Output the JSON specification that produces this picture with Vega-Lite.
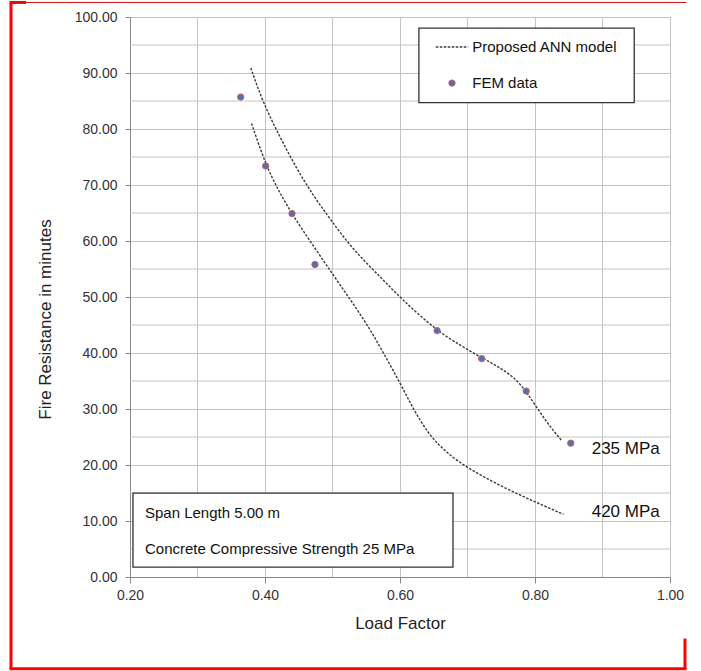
{
  "$schema": "https://vega.github.io/schema/vega-lite/v6.json",
  "width": 540,
  "height": 560,
  "autosize": {"type": "none"},
  "padding": {"left": 130, "top": 17, "right": 31, "bottom": 94},
  "background": "white",
  "config": {
    "font": "Liberation Sans",
    "view": {"stroke": "#c4c4c4", "strokeWidth": 1},
    "axis": {
      "labelFont": "Liberation Sans",
      "titleFont": "Liberation Sans",
      "labelColor": "#333333",
      "titleColor": "#222222",
      "labelFontSize": 14,
      "titleFontSize": 17,
      "titleFontWeight": "normal",
      "gridColor": "#c4c4c4",
      "gridWidth": 1,
      "domainColor": "#888888",
      "tickColor": "#888888",
      "labelFlush": false
    }
  },
  "datasets": {
    "minorGrid": [
      {"fr": 5}, {"fr": 15}, {"fr": 25}, {"fr": 35}, {"fr": 45},
      {"fr": 55}, {"fr": 65}, {"fr": 75}, {"fr": 85}, {"fr": 95}
    ],
    "curves": [
      {"series": "235 MPa", "load": 0.379, "fr": 90.9},
      {"series": "235 MPa", "load": 0.397, "fr": 84.7},
      {"series": "235 MPa", "load": 0.422, "fr": 78.6},
      {"series": "235 MPa", "load": 0.447, "fr": 72.9},
      {"series": "235 MPa", "load": 0.471, "fr": 68.2},
      {"series": "235 MPa", "load": 0.496, "fr": 64.0},
      {"series": "235 MPa", "load": 0.530, "fr": 58.5},
      {"series": "235 MPa", "load": 0.570, "fr": 53.7},
      {"series": "235 MPa", "load": 0.600, "fr": 49.9},
      {"series": "235 MPa", "load": 0.654, "fr": 44.0},
      {"series": "235 MPa", "load": 0.689, "fr": 41.4},
      {"series": "235 MPa", "load": 0.719, "fr": 39.3},
      {"series": "235 MPa", "load": 0.745, "fr": 37.6},
      {"series": "235 MPa", "load": 0.770, "fr": 35.6},
      {"series": "235 MPa", "load": 0.788, "fr": 33.0},
      {"series": "235 MPa", "load": 0.817, "fr": 27.6},
      {"series": "235 MPa", "load": 0.840, "fr": 24.3},
      {"series": "420 MPa", "load": 0.380, "fr": 81.0},
      {"series": "420 MPa", "load": 0.401, "fr": 73.6},
      {"series": "420 MPa", "load": 0.420, "fr": 69.0},
      {"series": "420 MPa", "load": 0.440, "fr": 64.8},
      {"series": "420 MPa", "load": 0.470, "fr": 59.4},
      {"series": "420 MPa", "load": 0.499, "fr": 54.3},
      {"series": "420 MPa", "load": 0.526, "fr": 49.6},
      {"series": "420 MPa", "load": 0.553, "fr": 44.8},
      {"series": "420 MPa", "load": 0.575, "fr": 40.1},
      {"series": "420 MPa", "load": 0.600, "fr": 34.7},
      {"series": "420 MPa", "load": 0.620, "fr": 29.9},
      {"series": "420 MPa", "load": 0.644, "fr": 25.2},
      {"series": "420 MPa", "load": 0.669, "fr": 22.2},
      {"series": "420 MPa", "load": 0.699, "fr": 19.5},
      {"series": "420 MPa", "load": 0.753, "fr": 16.0},
      {"series": "420 MPa", "load": 0.802, "fr": 13.3},
      {"series": "420 MPa", "load": 0.842, "fr": 11.2}
    ],
    "fem": [
      {"load": 0.364, "fr": 85.7},
      {"load": 0.401, "fr": 73.4},
      {"load": 0.440, "fr": 64.9},
      {"load": 0.474, "fr": 55.8},
      {"load": 0.655, "fr": 44.0},
      {"load": 0.721, "fr": 39.0},
      {"load": 0.787, "fr": 33.2},
      {"load": 0.853, "fr": 23.9}
    ],
    "curveLabels": [
      {"label": "235 MPa", "load": 0.884, "fr": 22.8},
      {"label": "420 MPa", "load": 0.884, "fr": 11.6}
    ],
    "legendBox": [{"x1": 0.628, "x2": 0.947, "y1": 84.7, "y2": 98.0}],
    "legendLine": [{"x1": 0.653, "x2": 0.701, "y": 94.65}],
    "legendPoint": [{"x": 0.677, "y": 88.2}],
    "legendText": [
      {"x": 0.707, "y": 94.65, "text": "Proposed ANN model"},
      {"x": 0.707, "y": 88.2, "text": "FEM data"}
    ],
    "noteBox": [{"x1": 0.2044, "x2": 0.6785, "y1": 1.78, "y2": 14.97}],
    "noteText": [
      {"x": 0.2222, "y": 11.4, "text": "Span Length 5.00 m"},
      {"x": 0.2222, "y": 5.0, "text": "Concrete Compressive Strength 25 MPa"}
    ],
    "frameV": [
      {"x": 0.0237, "y1": 102.6, "y2": -16.4},
      {"x": 1.0222, "y1": -11.0, "y2": -16.4}
    ],
    "frameH": [
      {"y": -16.4, "x1": 0.0215, "x2": 1.0244, "w": "thick"},
      {"y": 102.6, "x1": 0.0215, "x2": 0.0459, "w": "thick"},
      {"y": 102.6, "x1": 0.0237, "x2": 1.0244, "w": "thin"}
    ]
  },
  "layer": [
    {
      "data": {"name": "minorGrid"},
      "mark": {"type": "rule", "color": "#c4c4c4", "strokeWidth": 1},
      "encoding": {
        "y": {"field": "fr", "type": "quantitative"}
      }
    },
    {
      "data": {"name": "curves"},
      "mark": {"type": "line", "color": "#3a3a3a", "strokeWidth": 1.4, "strokeDash": [2.5, 1.5], "interpolate": "basis"},
      "encoding": {
        "x": {
          "field": "load", "type": "quantitative",
          "scale": {"domain": [0.2, 1.0], "nice": false, "zero": false},
          "axis": {
            "title": "Load Factor",
            "values": [0.2, 0.3, 0.4, 0.5, 0.6, 0.7, 0.8, 0.9, 1.0],
            "labelExpr": "round(datum.value*10) % 2 == 0 ? format(datum.value, '.2f') : ''",
            "tickOpacity": {"condition": {"test": "round(datum.value*10) % 2 != 0", "value": 0}, "value": 1},
            "tickSize": 6,
            "labelPadding": 5,
            "titlePadding": 13,
            "grid": true
          }
        },
        "y": {
          "field": "fr", "type": "quantitative",
          "scale": {"domain": [0, 100], "nice": false},
          "axis": {
            "title": "Fire Resistance in minutes",
            "values": [0, 10, 20, 30, 40, 50, 60, 70, 80, 90, 100],
            "format": ".2f",
            "tickSize": 5,
            "labelPadding": 8,
            "titlePadding": 20,
            "titleY": 302,
            "grid": true
          }
        },
        "detail": {"field": "series"}
      }
    },
    {
      "data": {"name": "fem"},
      "mark": {"type": "point", "filled": true, "fill": "#5470b0", "stroke": "#c86060", "strokeWidth": 1, "size": 40, "opacity": 1},
      "encoding": {
        "x": {"field": "load", "type": "quantitative"},
        "y": {"field": "fr", "type": "quantitative"}
      }
    },
    {
      "data": {"name": "curveLabels"},
      "mark": {"type": "text", "align": "left", "baseline": "middle", "fontSize": 17, "color": "#111111"},
      "encoding": {
        "x": {"field": "load", "type": "quantitative"},
        "y": {"field": "fr", "type": "quantitative"},
        "text": {"field": "label"}
      }
    },
    {
      "data": {"name": "legendBox"},
      "mark": {"type": "rect", "fill": "white", "stroke": "#333333", "strokeWidth": 1.3},
      "encoding": {
        "x": {"field": "x1", "type": "quantitative"},
        "x2": {"field": "x2"},
        "y": {"field": "y1", "type": "quantitative"},
        "y2": {"field": "y2"}
      }
    },
    {
      "data": {"name": "legendLine"},
      "mark": {"type": "rule", "color": "#3a3a3a", "strokeWidth": 1.4, "strokeDash": [2.5, 1.5]},
      "encoding": {
        "x": {"field": "x1", "type": "quantitative"},
        "x2": {"field": "x2"},
        "y": {"field": "y", "type": "quantitative"}
      }
    },
    {
      "data": {"name": "legendPoint"},
      "mark": {"type": "point", "filled": true, "fill": "#5470b0", "stroke": "#c86060", "strokeWidth": 1, "size": 40, "opacity": 1},
      "encoding": {
        "x": {"field": "x", "type": "quantitative"},
        "y": {"field": "y", "type": "quantitative"}
      }
    },
    {
      "data": {"name": "legendText"},
      "mark": {"type": "text", "align": "left", "baseline": "middle", "fontSize": 15, "color": "#111111"},
      "encoding": {
        "x": {"field": "x", "type": "quantitative"},
        "y": {"field": "y", "type": "quantitative"},
        "text": {"field": "text"}
      }
    },
    {
      "data": {"name": "noteBox"},
      "mark": {"type": "rect", "fill": "white", "stroke": "#333333", "strokeWidth": 1.3},
      "encoding": {
        "x": {"field": "x1", "type": "quantitative"},
        "x2": {"field": "x2"},
        "y": {"field": "y1", "type": "quantitative"},
        "y2": {"field": "y2"}
      }
    },
    {
      "data": {"name": "noteText"},
      "mark": {"type": "text", "align": "left", "baseline": "middle", "fontSize": 15, "color": "#111111"},
      "encoding": {
        "x": {"field": "x", "type": "quantitative"},
        "y": {"field": "y", "type": "quantitative"},
        "text": {"field": "text"}
      }
    },
    {
      "data": {"name": "frameV"},
      "mark": {"type": "rule", "color": "#ff0000", "strokeWidth": 3, "clip": false},
      "encoding": {
        "x": {"field": "x", "type": "quantitative"},
        "y": {"field": "y1", "type": "quantitative"},
        "y2": {"field": "y2"}
      }
    },
    {
      "data": {"name": "frameH"},
      "mark": {"type": "rule", "color": "#ff0000", "clip": false},
      "encoding": {
        "x": {"field": "x1", "type": "quantitative"},
        "x2": {"field": "x2"},
        "y": {"field": "y", "type": "quantitative"},
        "strokeWidth": {"field": "w", "type": "nominal", "scale": {"domain": ["thick", "thin"], "range": [3, 1]}, "legend": null},
        "color": {"field": "w", "type": "nominal", "scale": {"domain": ["thick", "thin"], "range": ["#ff0000", "#cc1010"]}, "legend": null}
      }
    }
  ]
}
